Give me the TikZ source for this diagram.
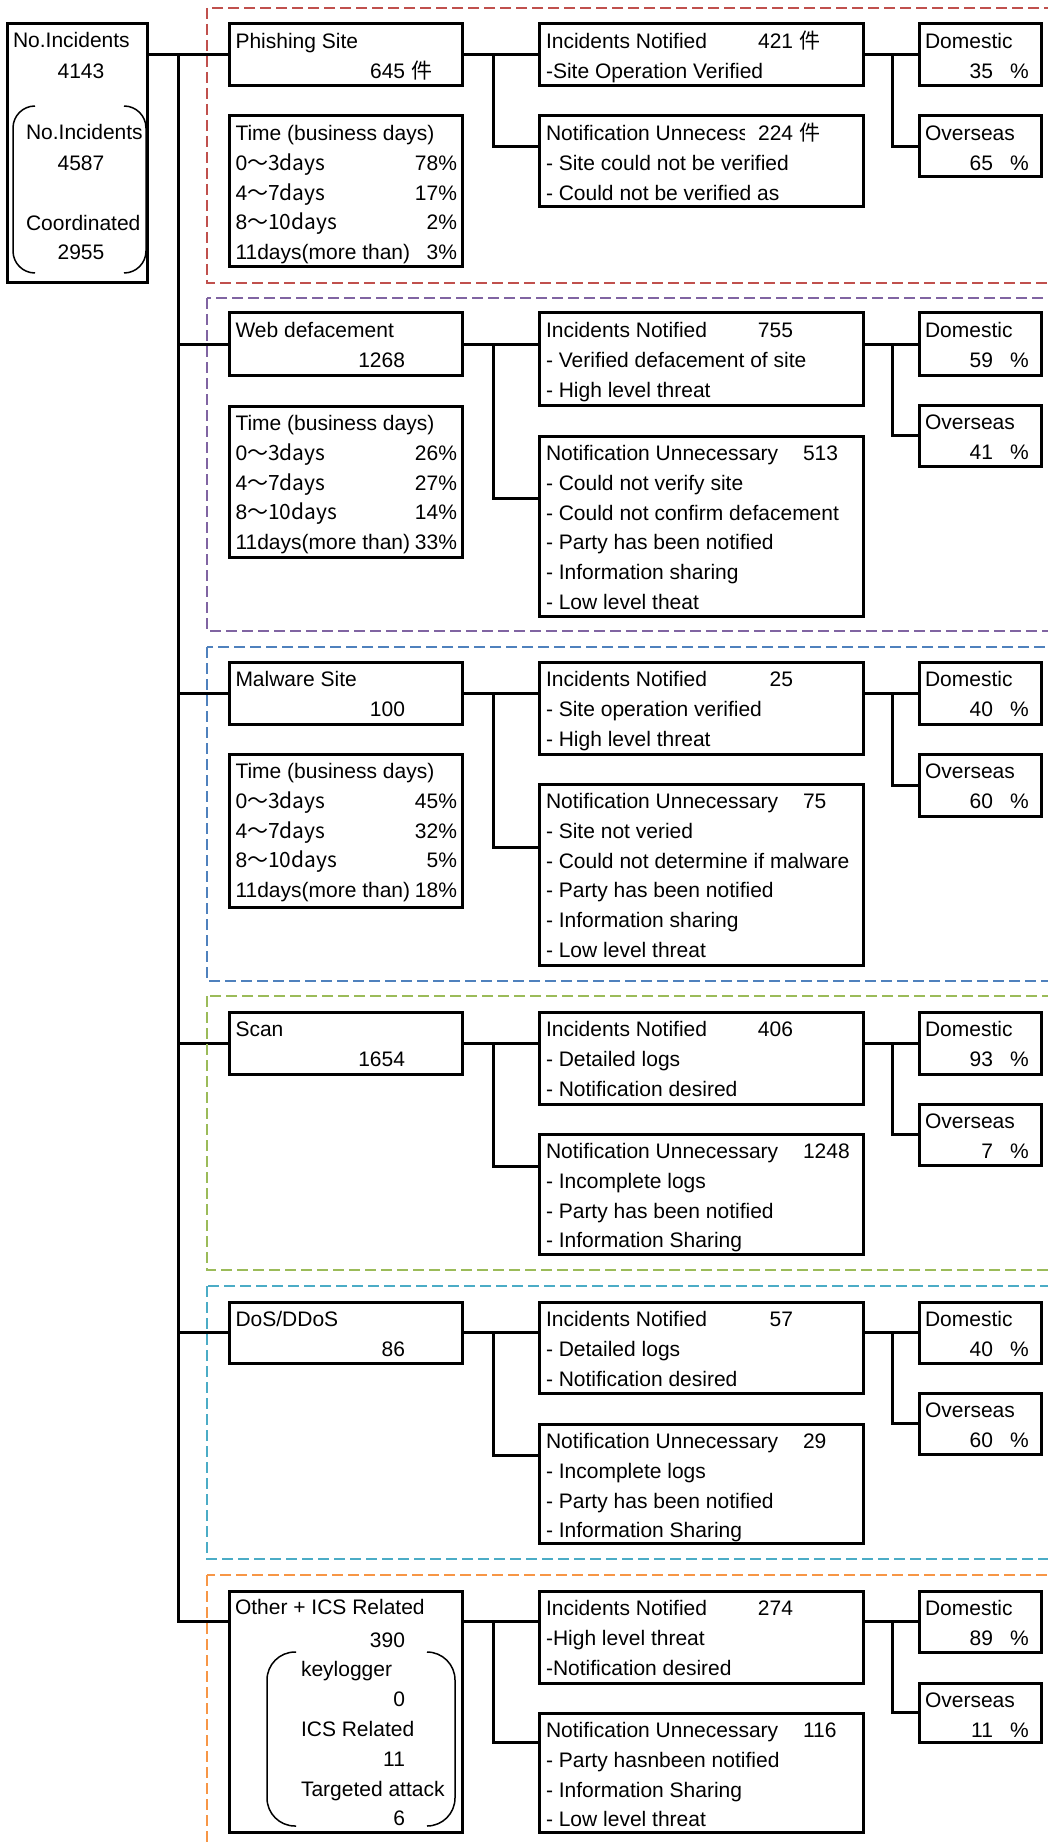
\documentclass[tikz,border=0pt]{standalone}
\usepackage{fontspec}
\setmainfont{Liberation Sans}
\newfontfamily\cjk{Noto Sans CJK JP}
\usetikzlibrary{calc}
\definecolor{gRed}{HTML}{C0504D}
\definecolor{gPur}{HTML}{8064A2}
\definecolor{gBlu}{HTML}{4F81BD}
\definecolor{gGrn}{HTML}{9BBB59}
\definecolor{gCyn}{HTML}{4BACC6}
\definecolor{gOrg}{HTML}{F79646}
\tikzset{
  bx/.style={draw, line width=3pt, anchor=north west, inner sep=0pt, outer sep=0pt},
  conn/.style={draw, line width=3pt, line join=miter},
  tx/.style={font=\fontsize{21}{30}\selectfont, inner sep=0pt, outer sep=0pt},
  grp/.style={line width=2.5pt, dash pattern=on 11pt off 5pt},
  brk/.style={line width=1.5pt}
}
% box: name, x, y, width, height
\newcommand\Bx[5]{\node[bx, minimum width=#4pt, minimum height=#5pt] (#1) at (#2,#3) {};}
% text line, left aligned: name, box, dx, line index, text
\newcommand\Lx[5]{\node[tx,anchor=base west] (#1) at ($(#2.north west)+(#3,{24.5+29.8*#4})$) {#5};}
% text, right aligned
\newcommand\Rx[5]{\node[tx,anchor=base east] (#1) at ($(#2.north west)+(#3,{24.5+29.8*#4})$) {#5};}
\begin{document}
\begin{tikzpicture}[x=1pt,y=-1pt]
\useasboundingbox (0,0) rectangle (1048,1843);
\clip (0,0) rectangle (1048,1843);

% ---------- boxes ----------
\Bx{root}{7}{24}{140}{259}
% section 1
\Bx{ph}{229}{24}{233}{62}
\Bx{pht}{229}{116}{233}{151}
\Bx{in1}{539}{24}{324}{62}
\Bx{nu1}{539}{116}{324}{91}
\Bx{d1}{919}{24}{122}{62}
\Bx{o1}{919}{116}{122}{61}
% section 2
\Bx{wd}{229}{313}{233}{62}
\Bx{wdt}{229}{406}{233}{151}
\Bx{in2}{539}{313}{324}{92}
\Bx{nu2}{539}{436}{324}{180}
\Bx{d2}{919}{313}{122}{62}
\Bx{o2}{919}{405}{122}{61}
% section 3
\Bx{mw}{229}{662}{233}{62}
\Bx{mwt}{229}{754}{233}{153}
\Bx{in3}{539}{662}{324}{92}
\Bx{nu3}{539}{784}{324}{181}
\Bx{d3}{919}{662}{122}{62}
\Bx{o3}{919}{754}{122}{62}
% section 4
\Bx{sc}{229}{1012}{233}{62}
\Bx{in4}{539}{1012}{324}{92}
\Bx{nu4}{539}{1134}{324}{120}
\Bx{d4}{919}{1012}{122}{62}
\Bx{o4}{919}{1104}{122}{61}
% section 5
\Bx{ds}{229}{1302}{233}{61}
\Bx{in5}{539}{1302}{324}{91}
\Bx{nu5}{539}{1424}{324}{119}
\Bx{d5}{919}{1302}{122}{61}
\Bx{o5}{919}{1393}{122}{61}
% section 6
\Bx{ot}{229}{1591}{233}{241}
\Bx{in6}{539}{1591}{324}{92}
\Bx{nu6}{539}{1713}{324}{119}
\Bx{d6}{919}{1591}{122}{61}
\Bx{o6}{919}{1683}{122}{59}

% ---------- connector coordinates ----------
\coordinate (tk) at (178,0);
\coordinate (bA) at (493,0);
\coordinate (bB) at (892,0);
\coordinate (otc) at ($(ot.north west)+(0,30)$);
\coordinate (otce) at ($(ot.north east)+(0,30)$);
\coordinate (nu1c) at ($(nu1.north west)+(0,31)$);
\coordinate (nu2c) at ($(nu2.north west)+(0,62)$);
\coordinate (nu3c) at ($(nu3.north west)+(0,63)$);
\coordinate (nu4c) at ($(nu4.north west)+(0,32)$);
\coordinate (nu5c) at ($(nu5.north west)+(0,31)$);
\coordinate (nu6c) at ($(nu6.north west)+(0,29)$);

% ---------- connectors ----------
\draw[conn] (root.east |- ph.west) -- (ph.west);
\draw[conn] (tk |- ph.west) -- (tk |- otc) -- (otc);
\foreach \c in {wd,mw,sc,ds} { \draw[conn] (tk |- \c.west) -- (\c.west); }
% category -> notified / unnecessary
\draw[conn] (ph.east) -- (ph.east -| in1.west);
\draw[conn] (bA |- ph.east) -- (bA |- nu1c) -- (nu1c);
\draw[conn] (wd.east) -- (wd.east -| in2.west);
\draw[conn] (bA |- wd.east) -- (bA |- nu2c) -- (nu2c);
\draw[conn] (mw.east) -- (mw.east -| in3.west);
\draw[conn] (bA |- mw.east) -- (bA |- nu3c) -- (nu3c);
\draw[conn] (sc.east) -- (sc.east -| in4.west);
\draw[conn] (bA |- sc.east) -- (bA |- nu4c) -- (nu4c);
\draw[conn] (ds.east) -- (ds.east -| in5.west);
\draw[conn] (bA |- ds.east) -- (bA |- nu5c) -- (nu5c);
\draw[conn] (otce) -- (otce -| in6.west);
\draw[conn] (bA |- otce) -- (bA |- nu6c) -- (nu6c);
% notified -> domestic / overseas
\foreach \i in {1,...,6} {
  \draw[conn] (in\i.east |- d\i.west) -- (d\i.west);
  \draw[conn] (bB |- d\i.west) -- (bB |- o\i.west) -- (o\i.west);
}

% ---------- root texts ----------
\node[tx,anchor=base west] (r1) at (13,48) {No.Incidents};
\node[tx,anchor=base] (r2) at (81,79) {4143};
\node[tx,anchor=base west] (r3) at (26,140) {No.Incidents};
\node[tx,anchor=base] (r4) at (81,171) {4587};
\node[tx,anchor=base west] (r5) at (26,231) {Coordinated};
\node[tx,anchor=base] (r6) at (81,260) {2955};
\draw[brk, rounded corners=22pt] (35,106) -- (13,106) -- (13,273) -- (35,273);
\draw[brk, rounded corners=22pt] (124,106) -- (146,106) -- (146,273) -- (124,273);

% ---------- section 1 texts ----------
\Lx{ph1}{ph}{6.5}{0}{Phishing Site}
\Rx{ph2}{ph}{203}{1}{645 \cjk{件}}
\Lx{pt0}{pht}{6.5}{0}{Time (business days)}
\Lx{pt1}{pht}{6.5}{1}{0\cjk{～}3days}
\Lx{pt2}{pht}{6.5}{2}{4\cjk{～}7days}
\Lx{pt3}{pht}{6.5}{3}{8\cjk{～}10days}
\Lx{pt4}{pht}{6.5}{4}{11days(more than)}
\Rx{pp1}{pht}{228}{1}{78\%}
\Rx{pp2}{pht}{228}{2}{17\%}
\Rx{pp3}{pht}{228}{3}{2\%}
\Rx{pp4}{pht}{228}{4}{3\%}
\Lx{i1a}{in1}{7}{0}{Incidents Notified}
\Rx{i1n}{in1}{281}{0}{421 \cjk{件}}
\Lx{i1b}{in1}{7}{1}{-Site Operation Verified}
\Lx{n1a}{nu1}{7}{0}{Notification Unneces}
\begin{scope}
\clip (n1a.south east) rectangle ([xshift=5.5pt]n1a.north east);
\node[tx,anchor=base west] (n1s) at (n1a.base east) {s};
\end{scope}
\Rx{n1n}{nu1}{281}{0}{224 \cjk{件}}
\Lx{n1b}{nu1}{7}{1}{- Site could not be verified}
\Lx{n1c}{nu1}{7}{2}{- Could not be verified as}
\Lx{d1a}{d1}{6}{0}{Domestic}
\Rx{d1n}{d1}{74}{1}{35}
\Lx{d1p}{d1}{91}{1}{\%}
\Lx{o1a}{o1}{6}{0}{Overseas}
\Rx{o1n}{o1}{74}{1}{65}
\Lx{o1p}{o1}{91}{1}{\%}

% ---------- section 2 texts ----------
\Lx{wd1}{wd}{6.5}{0}{Web defacement}
\Rx{wd2}{wd}{176}{1}{1268}
\Lx{wt0}{wdt}{6.5}{0}{Time (business days)}
\Lx{wt1}{wdt}{6.5}{1}{0\cjk{～}3days}
\Lx{wt2}{wdt}{6.5}{2}{4\cjk{～}7days}
\Lx{wt3}{wdt}{6.5}{3}{8\cjk{～}10days}
\Lx{wt4}{wdt}{6.5}{4}{11days(more than)}
\Rx{wp1}{wdt}{228}{1}{26\%}
\Rx{wp2}{wdt}{228}{2}{27\%}
\Rx{wp3}{wdt}{228}{3}{14\%}
\Rx{wp4}{wdt}{228}{4}{33\%}
\Lx{i2a}{in2}{7}{0}{Incidents Notified}
\Rx{i2n}{in2}{254}{0}{755}
\Lx{i2b}{in2}{7}{1}{- Verified defacement of site}
\Lx{i2c}{in2}{7}{2}{- High level threat}
\Lx{n2a}{nu2}{7}{0}{Notification Unnecessary}
\Lx{n2n}{nu2}{264}{0}{513}
\Lx{n2b}{nu2}{7}{1}{- Could not verify site}
\Lx{n2c}{nu2}{7}{2}{- Could not confirm defacement}
\Lx{n2d}{nu2}{7}{3}{- Party has been notified}
\Lx{n2e}{nu2}{7}{4}{- Information sharing}
\Lx{n2f}{nu2}{7}{5}{- Low level theat}
\Lx{d2a}{d2}{6}{0}{Domestic}
\Rx{d2n}{d2}{74}{1}{59}
\Lx{d2p}{d2}{91}{1}{\%}
\Lx{o2a}{o2}{6}{0}{Overseas}
\Rx{o2n}{o2}{74}{1}{41}
\Lx{o2p}{o2}{91}{1}{\%}

% ---------- section 3 texts ----------
\Lx{mw1}{mw}{6.5}{0}{Malware Site}
\Rx{mw2}{mw}{176}{1}{100}
\Lx{mt0}{mwt}{6.5}{0}{Time (business days)}
\Lx{mt1}{mwt}{6.5}{1}{0\cjk{～}3days}
\Lx{mt2}{mwt}{6.5}{2}{4\cjk{～}7days}
\Lx{mt3}{mwt}{6.5}{3}{8\cjk{～}10days}
\Lx{mt4}{mwt}{6.5}{4}{11days(more than)}
\Rx{mp1}{mwt}{228}{1}{45\%}
\Rx{mp2}{mwt}{228}{2}{32\%}
\Rx{mp3}{mwt}{228}{3}{5\%}
\Rx{mp4}{mwt}{228}{4}{18\%}
\Lx{i3a}{in3}{7}{0}{Incidents Notified}
\Rx{i3n}{in3}{254}{0}{25}
\Lx{i3b}{in3}{7}{1}{- Site operation verified}
\Lx{i3c}{in3}{7}{2}{- High level threat}
\Lx{n3a}{nu3}{7}{0}{Notification Unnecessary}
\Lx{n3n}{nu3}{264}{0}{75}
\Lx{n3b}{nu3}{7}{1}{- Site not veried}
\Lx{n3c}{nu3}{7}{2}{- Could not determine if malware}
\Lx{n3d}{nu3}{7}{3}{- Party has been notified}
\Lx{n3e}{nu3}{7}{4}{- Information sharing}
\Lx{n3f}{nu3}{7}{5}{- Low level threat}
\Lx{d3a}{d3}{6}{0}{Domestic}
\Rx{d3n}{d3}{74}{1}{40}
\Lx{d3p}{d3}{91}{1}{\%}
\Lx{o3a}{o3}{6}{0}{Overseas}
\Rx{o3n}{o3}{74}{1}{60}
\Lx{o3p}{o3}{91}{1}{\%}

% ---------- section 4 texts ----------
\Lx{sc1}{sc}{6.5}{0}{Scan}
\Rx{sc2}{sc}{176}{1}{1654}
\Lx{i4a}{in4}{7}{0}{Incidents Notified}
\Rx{i4n}{in4}{254}{0}{406}
\Lx{i4b}{in4}{7}{1}{- Detailed logs}
\Lx{i4c}{in4}{7}{2}{- Notification desired}
\Lx{n4a}{nu4}{7}{0}{Notification Unnecessary}
\Lx{n4n}{nu4}{264}{0}{1248}
\Lx{n4b}{nu4}{7}{1}{- Incomplete logs}
\Lx{n4c}{nu4}{7}{2}{- Party has been notified}
\Lx{n4d}{nu4}{7}{3}{- Information Sharing}
\Lx{d4a}{d4}{6}{0}{Domestic}
\Rx{d4n}{d4}{74}{1}{93}
\Lx{d4p}{d4}{91}{1}{\%}
\Lx{o4a}{o4}{6}{0}{Overseas}
\Rx{o4n}{o4}{74}{1}{7}
\Lx{o4p}{o4}{91}{1}{\%}

% ---------- section 5 texts ----------
\Lx{ds1}{ds}{6.5}{0}{DoS/DDoS}
\Rx{ds2}{ds}{176}{1}{86}
\Lx{i5a}{in5}{7}{0}{Incidents Notified}
\Rx{i5n}{in5}{254}{0}{57}
\Lx{i5b}{in5}{7}{1}{- Detailed logs}
\Lx{i5c}{in5}{7}{2}{- Notification desired}
\Lx{n5a}{nu5}{7}{0}{Notification Unnecessary}
\Lx{n5n}{nu5}{264}{0}{29}
\Lx{n5b}{nu5}{7}{1}{- Incomplete logs}
\Lx{n5c}{nu5}{7}{2}{- Party has been notified}
\Lx{n5d}{nu5}{7}{3}{- Information Sharing}
\Lx{d5a}{d5}{6}{0}{Domestic}
\Rx{d5n}{d5}{74}{1}{40}
\Lx{d5p}{d5}{91}{1}{\%}
\Lx{o5a}{o5}{6}{0}{Overseas}
\Rx{o5n}{o5}{74}{1}{60}
\Lx{o5p}{o5}{91}{1}{\%}

% ---------- section 6 texts ----------
\node[tx,anchor=base west] (ot1) at (235,1614) {Other + ICS Related};
\node[tx,anchor=base east] (ot2) at (405,1647) {390};
\node[tx,anchor=base west] (ot3) at (301,1676) {keylogger};
\node[tx,anchor=base east] (ot4) at (405,1706) {0};
\node[tx,anchor=base west] (ot5) at (301,1736) {ICS Related};
\node[tx,anchor=base east] (ot6) at (405,1766) {11};
\node[tx,anchor=base west] (ot7) at (301,1796) {Targeted attack};
\node[tx,anchor=base east] (ot8) at (405,1825) {6};
\draw[brk, rounded corners=28pt] (296,1652) -- (267,1652) -- (267,1826) -- (296,1826);
\draw[brk, rounded corners=28pt] (427,1652) -- (455,1652) -- (455,1826) -- (427,1826);
\Lx{i6a}{in6}{7}{0}{Incidents Notified}
\Rx{i6n}{in6}{254}{0}{274}
\Lx{i6b}{in6}{7}{1}{-High level threat}
\Lx{i6c}{in6}{7}{2}{-Notification desired}
\Lx{n6a}{nu6}{7}{0}{Notification Unnecessary}
\Lx{n6n}{nu6}{264}{0}{116}
\Lx{n6b}{nu6}{7}{1}{- Party hasnbeen notified}
\Lx{n6c}{nu6}{7}{2}{- Information Sharing}
\Lx{n6d}{nu6}{7}{3}{- Low level threat}
\Lx{d6a}{d6}{6}{0}{Domestic}
\Rx{d6n}{d6}{74}{1}{89}
\Lx{d6p}{d6}{91}{1}{\%}
\Lx{o6a}{o6}{6}{0}{Overseas}
\Rx{o6n}{o6}{74}{1}{11}
\Lx{o6p}{o6}{91}{1}{\%}

% ---------- dashed group frames ----------
\draw[grp, gRed] (207,8) rectangle (1060,283);
\draw[grp, gPur] (207,298) rectangle (1060,631);
\draw[grp, gBlu] (207,647) rectangle (1060,981);
\draw[grp, gGrn] (207,996) rectangle (1060,1270);
\draw[grp, gCyn] (207,1286) rectangle (1060,1559);
\draw[grp, gOrg] (207,1575) rectangle (1060,1870);
\end{tikzpicture}
\end{document}
